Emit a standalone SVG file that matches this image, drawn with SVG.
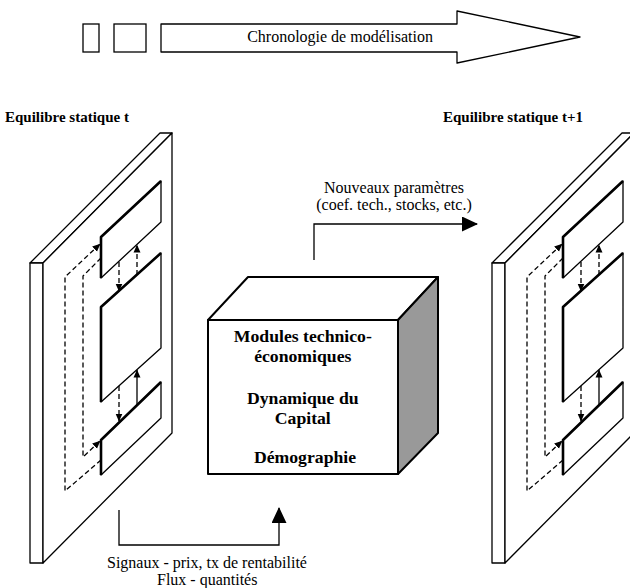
<svg xmlns="http://www.w3.org/2000/svg" xmlns:xlink="http://www.w3.org/1999/xlink" width="630" height="588" viewBox="0 0 630 588">
<style>
  .ln{fill:none;stroke:#000;stroke-width:1.3}
  .face{fill:#fff;stroke:#000;stroke-width:1.3;stroke-linejoin:round}
  .bold{fill:none;stroke:#000;stroke-width:2.6;stroke-linejoin:round}
  .dash{fill:none;stroke:#000;stroke-width:1.3;stroke-dasharray:5,3}
  text{font-family:'Liberation Serif','Times New Roman',Times,serif;fill:#000}
  .h{font-size:15px;font-weight:bold}
  .r{font-size:16px}
  .c{font-size:17.7px;font-weight:bold}
  .cube{stroke:#000;stroke-width:2;stroke-linejoin:round}
</style>
<defs>
  <marker id="ah" viewBox="0 0 8 8" refX="7.5" refY="4" markerWidth="8" markerHeight="8" markerUnits="userSpaceOnUse" orient="auto">
    <path d="M0,0.5 L8,4 L0,7.5 z" fill="#000"/>
  </marker>
  <marker id="big" viewBox="0 0 16 15" refX="15" refY="7.5" markerWidth="16" markerHeight="15" markerUnits="userSpaceOnUse" orient="auto">
    <path d="M0,0 L16,7.5 L0,15 z" fill="#000"/>
  </marker>
  <g id="panel">
    <polygon class="face" points="30,263 160,133 172,133 43,263"/>
    <rect class="face" x="30" y="263" width="13" height="300"/>
    <polygon class="face" points="43,263 172,133 172,433 43,563"/>
    <polygon class="face" points="101,237 161,181 161,222 101,278"/>
    <path class="bold" d="M101,278 V237 L161,181"/>
    <polygon class="face" points="101,307 161,253 161,348 101,402"/>
    <path class="bold" d="M101,402 V307 L161,253"/>
    <polygon class="face" points="101,440 161,382 161,418 101,475"/>
    <path class="bold" d="M101,475 V440 L161,382"/>
    <line class="dash" x1="119" y1="262" x2="119" y2="291" marker-end="url(#ah)"/>
    <line class="dash" x1="137" y1="275" x2="137" y2="245" marker-end="url(#ah)"/>
    <line class="ln" x1="137" y1="405" x2="137" y2="370" marker-end="url(#ah)"/>
    <line class="dash" x1="119" y1="386" x2="119" y2="421" marker-end="url(#ah)"/>
    <path class="dash" d="M101,460 L65,491 V277 L100,244" marker-end="url(#ah)"/>
    <path class="dash" d="M101,258 L83,276 V457 L100,441" marker-end="url(#ah)"/>
  </g>
</defs>

<g id="timeline">
  <rect class="ln" x="83" y="24" width="16" height="28" stroke-width="1.5"/>
  <rect class="ln" x="114" y="24" width="32" height="28" stroke-width="1.5"/>
  <polygon class="face" points="161,24 457,24 457,11 580,37 457,63 457,52 161,52" stroke-width="1.5"/>
  <text class="r" x="340" y="42" text-anchor="middle">Chronologie de modélisation</text>
</g>

<g id="equilibre-t">
  <text class="h" x="5" y="122">Equilibre statique t</text>
  <use xlink:href="#panel"/>
</g>

<g id="equilibre-t1">
  <text class="h" x="443" y="122">Equilibre statique t+1</text>
  <use xlink:href="#panel" transform="translate(462,0)"/>
</g>

<g id="modules">
  <polygon class="cube" fill="#fff" points="208,320 248,277 438,277 398,320"/>
  <polygon class="cube" fill="#999" points="398,320 438,277 438,433 398,474"/>
  <rect class="cube" fill="#fff" x="208" y="320" width="190" height="154"/>
  <text class="c" text-anchor="middle">
    <tspan x="305" y="342">Modules technico-</tspan>
    <tspan x="305" y="362">économiques</tspan>
    <tspan x="305" y="404">Dynamique du</tspan>
    <tspan x="305" y="424">Capital</tspan>
    <tspan x="305" y="463">Démographie</tspan>
  </text>
</g>

<g id="connectors">
  <path class="ln" d="M314,260 V224 H477" stroke-width="1.5" marker-end="url(#big)"/>
  <text class="r" text-anchor="middle"><tspan x="394" y="193">Nouveaux paramètres</tspan><tspan x="394" y="210">(coef. tech., stocks, etc.)</tspan></text>
  <path class="ln" d="M119,510 V545 H279 V508" stroke-width="1.5" marker-end="url(#big)"/>
  <text class="r"><tspan x="107" y="568">Signaux  - prix, tx de rentabilité</tspan><tspan x="157" y="585">Flux  - quantités</tspan></text>
</g>
</svg>
